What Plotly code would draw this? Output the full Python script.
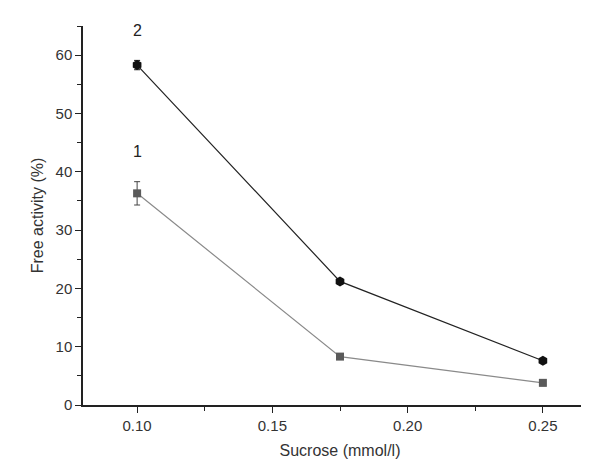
import plotly.graph_objects as go

sucrose = [0.10, 0.175, 0.25]
act_1 = [36.3, 8.3, 3.8]
err_1 = [2.0, 0.5, 0.5]
act_2 = [58.3, 21.2, 7.6]
err_2 = [0.8, 0.5, 0.3]

fig = go.Figure()
fig.add_trace(go.Scatter(
    x=sucrose, y=act_1, mode='lines+markers',
    line=dict(color='#8a8a8a', width=1.2),
    marker=dict(symbol='square', size=8, color='#5a5a5a'),
    error_y=dict(type='data', array=err_1, color='#444', thickness=1, width=3),
))
fig.add_trace(go.Scatter(
    x=sucrose, y=act_2, mode='lines+markers',
    line=dict(color='#222', width=1.2),
    marker=dict(symbol='hexagon', size=10, color='#111'),
    error_y=dict(type='data', array=err_2, color='#111', thickness=1, width=3),
))
fig.add_annotation(x=0.10, y=64.3, text='2', showarrow=False, font=dict(size=16, color='#222'))
fig.add_annotation(x=0.10, y=43.5, text='1', showarrow=False, font=dict(size=16, color='#222'))

axis_font = dict(family='Liberation Sans', size=15, color='#333')
fig.update_layout(
    width=589, height=463, showlegend=False,
    paper_bgcolor='white', plot_bgcolor='white',
    margin=dict(l=75, r=0, t=18, b=66),
    font=axis_font,
    xaxis=dict(range=[0.08, 0.27], tickvals=[0.10, 0.15, 0.20, 0.25],
               ticktext=['0.10', '0.15', '0.20', '0.25'],
               showgrid=False, zeroline=False, showline=True, linecolor='#222', linewidth=1.5,
               ticks='outside', ticklen=6, tickcolor='#222',
               minor=dict(dtick=0.025, ticks='outside', ticklen=4, tickcolor='#222'),
               title=dict(text='Sucrose (mmol/l)', standoff=12, font=dict(size=16))),
    yaxis=dict(range=[0, 65], tickvals=[0, 10, 20, 30, 40, 50, 60],
               showgrid=False, zeroline=False, showline=True, linecolor='#222', linewidth=1.5,
               ticks='outside', ticklen=6, tickcolor='#222',
               minor=dict(dtick=5, ticks='outside', ticklen=4, tickcolor='#222'),
               title=dict(text='Free activity (%)', standoff=8, font=dict(size=16))),
)
fig.write_html("out.html")
